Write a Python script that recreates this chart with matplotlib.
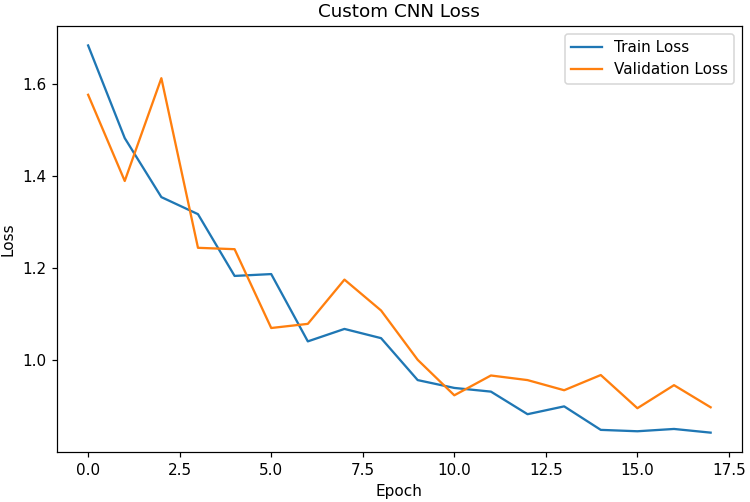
import matplotlib
matplotlib.use("Agg")
import matplotlib.pyplot as plt

epochs = list(range(18))
train_loss = [1.683, 1.482, 1.354, 1.317, 1.183, 1.187, 1.041, 1.068, 1.048, 0.957,
              0.940, 0.932, 0.883, 0.900, 0.849, 0.846, 0.851, 0.843]
val_loss = [1.576, 1.389, 1.612, 1.244, 1.241, 1.070, 1.079, 1.175, 1.108, 1.001,
            0.924, 0.967, 0.957, 0.935, 0.968, 0.896, 0.946, 0.898]

DPI = 110
fig, ax = plt.subplots(figsize=(750 / DPI, 502 / DPI), dpi=DPI)
ax.plot(epochs, train_loss, label="Train Loss")
ax.plot(epochs, val_loss, label="Validation Loss")
ax.set_title("Custom CNN Loss")
ax.set_xlabel("Epoch")
ax.set_ylabel("Loss")
ax.legend()
fig.subplots_adjust(left=0.076, right=0.989, top=0.948, bottom=0.0996)
fig.savefig("out.png", dpi=DPI)
